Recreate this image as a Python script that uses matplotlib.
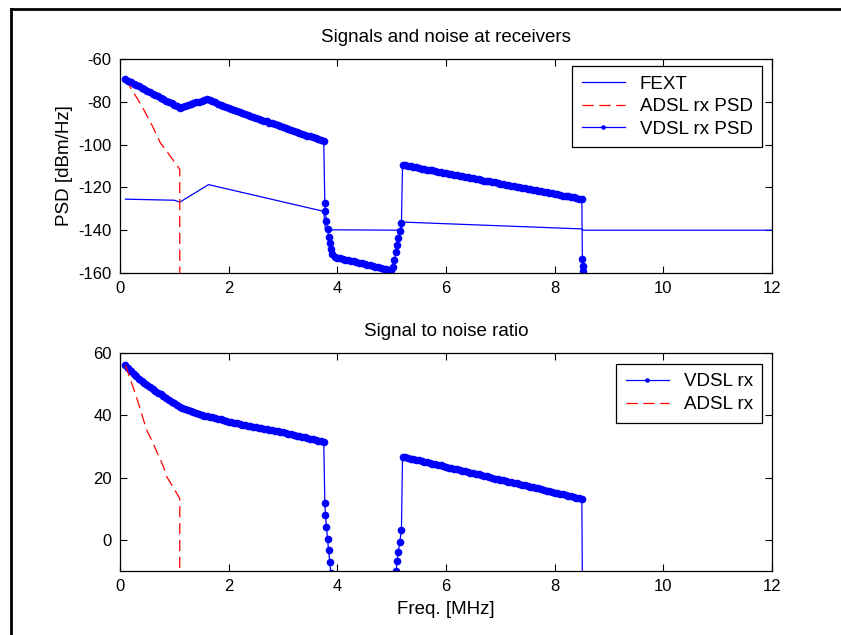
import matplotlib.pyplot as plt
from matplotlib.lines import Line2D

# --- data ---
# frequency grid of the two VDSL bands (MHz)
band1_f = [0.10, 0.15, 0.20, 0.25, 0.30, 0.35, 0.40, 0.45, 0.50, 0.55,
           0.60, 0.65, 0.70, 0.75, 0.80, 0.85, 0.90, 0.95, 1.00, 1.05,
           1.10, 1.15, 1.20, 1.25, 1.30, 1.35, 1.40, 1.45, 1.50, 1.55,
           1.60, 1.65, 1.70, 1.75, 1.80, 1.85, 1.90, 1.95, 2.00, 2.05,
           2.10, 2.15, 2.20, 2.25, 2.30, 2.35, 2.40, 2.45, 2.50, 2.55,
           2.60, 2.65, 2.70, 2.75, 2.80, 2.85, 2.90, 2.95, 3.00, 3.05,
           3.10, 3.15, 3.20, 3.25, 3.30, 3.35, 3.40, 3.45, 3.50, 3.55,
           3.60, 3.65, 3.70, 3.75]
band2_f = [5.20, 5.25, 5.30, 5.35, 5.40, 5.45, 5.50, 5.55, 5.60, 5.65,
           5.70, 5.75, 5.80, 5.85, 5.90, 5.95, 6.00, 6.05, 6.10, 6.15,
           6.20, 6.25, 6.30, 6.35, 6.40, 6.45, 6.50, 6.55, 6.60, 6.65,
           6.70, 6.75, 6.80, 6.85, 6.90, 6.95, 7.00, 7.05, 7.10, 7.15,
           7.20, 7.25, 7.30, 7.35, 7.40, 7.45, 7.50, 7.55, 7.60, 7.65,
           7.70, 7.75, 7.80, 7.85, 7.90, 7.95, 8.00, 8.05, 8.10, 8.15,
           8.20, 8.25, 8.30, 8.35, 8.40, 8.45, 8.50]

# VDSL rx PSD (dBm/Hz)
psd_band1 = [-69.5, -70.2, -70.9, -71.5, -72.2, -72.8, -73.5, -74.2, -74.9, -75.5,
             -76.2, -76.8, -77.5, -78.1, -78.8, -79.4, -80.1, -80.7, -81.4, -82.0,
             -82.7, -82.3, -81.9, -81.5, -81.1, -80.7, -80.3, -79.9, -79.5, -79.0,
             -78.5, -79.1, -79.7, -80.2, -80.8, -81.3, -81.8, -82.3, -82.8, -83.3,
             -83.8, -84.2, -84.7, -85.2, -85.7, -86.1, -86.6, -87.0, -87.5, -87.9,
             -88.4, -88.8, -89.2, -89.7, -90.1, -90.5, -91.0, -91.4, -91.9, -92.3,
             -92.7, -93.2, -93.6, -94.0, -94.5, -94.9, -95.3, -95.8, -96.2, -96.6,
             -97.1, -97.5, -97.9, -98.4]
gap_f = [3.77, 3.78, 3.80, 3.82, 3.84, 3.86, 3.88, 3.90, 3.95,
         4.00, 4.05, 4.10, 4.15, 4.20, 4.25, 4.30, 4.35, 4.40, 4.45,
         4.50, 4.55, 4.60, 4.65, 4.70, 4.75, 4.80, 4.85, 4.90, 4.95, 4.98,
         5.02, 5.05, 5.08, 5.10, 5.12, 5.15, 5.18]
psd_gap = [-127.3, -131.2, -135.6, -139.5, -143.0, -146.0, -148.9, -151.2, -152.5,
           -153.0, -153.2, -153.5, -153.8, -154.0, -154.3, -154.6, -154.9, -155.2, -155.5,
           -155.8, -156.1, -156.4, -156.7, -157.0, -157.3, -157.6, -157.9, -158.2, -158.5, -158.7,
           -157.0, -154.0, -150.0, -146.9, -143.8, -140.6, -136.7]
psd_band2 = [-109.5, -109.7, -110.0, -110.2, -110.4, -110.7, -110.9, -111.2, -111.4, -111.7,
             -111.9, -112.1, -112.4, -112.6, -112.9, -113.1, -113.4, -113.6, -113.8, -114.1,
             -114.3, -114.6, -114.8, -115.0, -115.3, -115.5, -115.8, -116.0, -116.3, -116.5,
             -116.8, -117.0, -117.2, -117.5, -117.7, -118.0, -118.2, -118.4, -118.7, -118.9,
             -119.2, -119.4, -119.7, -119.9, -120.1, -120.4, -120.6, -120.9, -121.1, -121.3,
             -121.6, -121.8, -122.1, -122.3, -122.6, -122.8, -123.0, -123.3, -123.5, -123.8,
             -124.0, -124.2, -124.5, -124.7, -125.0, -125.2, -125.4]
tail_f = [8.51, 8.52, 8.53, 8.54]
psd_tail = [-153.6, -156.7, -158.9, -162.0]

# FEXT (dBm/Hz)
fext_f = [0.1, 1.0, 1.1, 1.63, 3.75, 3.78, 5.18, 5.2, 8.5, 8.52, 12.0]
fext_psd = [-125.5, -126.0, -126.9, -118.7, -131.2, -139.8, -140.0, -136.2, -139.4, -140.0, -140.0]

# ADSL rx PSD (dBm/Hz)
adsl_f = [0.1, 0.4, 0.6, 0.74, 0.9, 1.1, 1.1]
adsl_psd = [-69.5, -81.9, -91.5, -99.1, -104.5, -111.6, -170.0]

# VDSL SNR (dB)
snr_band1 = [56.0, 55.1, 54.3, 53.4, 52.6, 51.8, 51.1, 50.4, 49.8, 49.1,
             48.5, 47.9, 47.3, 46.7, 46.2, 45.6, 45.0, 44.4, 43.9, 43.3,
             42.8, 42.4, 42.0, 41.6, 41.3, 41.0, 40.7, 40.4, 40.2, 39.9,
             39.7, 39.5, 39.3, 39.1, 38.9, 38.7, 38.5, 38.2, 38.0, 37.8,
             37.6, 37.4, 37.2, 37.0, 36.8, 36.6, 36.5, 36.3, 36.1, 36.0,
             35.8, 35.6, 35.5, 35.3, 35.2, 35.0, 34.9, 34.7, 34.5, 34.3,
             34.1, 33.9, 33.7, 33.5, 33.3, 33.1, 32.9, 32.7, 32.5, 32.3,
             32.1, 31.9, 31.7, 31.5]
snr_gap_f = [3.77, 3.78, 3.80, 3.82, 3.84, 3.86, 3.88, 3.90,
             4.0, 4.5, 4.98, 5.02, 5.05, 5.08, 5.10, 5.12, 5.15, 5.18]
snr_gap = [11.9, 8.0, 4.0, 0.2, -3.3, -7.0, -10.5, -12.0,
           -13.0, -15.8, -18.7, -17.0, -14.0, -10.0, -6.9, -3.8, -0.6, 3.3]
snr_band2 = [26.7, 26.5, 26.3, 26.1, 25.9, 25.7, 25.5, 25.3, 25.1, 24.9,
             24.7, 24.5, 24.3, 24.1, 23.9, 23.6, 23.4, 23.2, 23.0, 22.8,
             22.6, 22.4, 22.2, 22.0, 21.8, 21.6, 21.4, 21.2, 21.0, 20.8,
             20.6, 20.4, 20.2, 19.9, 19.7, 19.5, 19.3, 19.1, 18.9, 18.7,
             18.5, 18.3, 18.1, 17.9, 17.7, 17.5, 17.3, 17.1, 16.9, 16.7,
             16.5, 16.3, 16.1, 15.8, 15.6, 15.4, 15.2, 15.0, 14.8, 14.6,
             14.4, 14.2, 14.0, 13.8, 13.6, 13.4, 13.1]
snr_tail_f = [8.51, 8.52]
snr_tail = [-13.6, -16.7]

# ADSL SNR (dB)
snr_adsl_f = [0.1, 0.28, 0.49, 0.58, 0.8, 0.86, 1.1, 1.1]
snr_adsl = [56.0, 47.1, 35.3, 32.1, 23.5, 20.3, 13.3, -20.0]

xticks = [0, 2, 4, 6, 8, 10, 12]

vdsl_f = band1_f + gap_f + band2_f + tail_f
vdsl_psd = psd_band1 + psd_gap + psd_band2 + psd_tail
snr_f = band1_f + snr_gap_f + band2_f + snr_tail_f
snr_vdsl = snr_band1 + snr_gap + snr_band2 + snr_tail

plt.rcParams['font.family'] = ['Liberation Sans', 'DejaVu Sans']
plt.rcParams['font.size'] = 13.5
plt.rcParams['axes.unicode_minus'] = False

fig = plt.figure(figsize=(8.41, 6.35), dpi=100)
ax1 = fig.add_axes([120 / 841, 1 - 273 / 635, 652 / 841, 214 / 635])
ax2 = fig.add_axes([120 / 841, 1 - 571 / 635, 652 / 841, 218 / 635])

dash = (9, 4.5)
mk = dict(marker='o', ms=5.5, mew=0)

ax1.plot(fext_f, fext_psd, color='blue', lw=0.9, label='FEXT')
ax1.plot(adsl_f, adsl_psd, color='red', lw=0.9, dashes=dash, label='ADSL rx PSD')
ax1.plot(vdsl_f, vdsl_psd, color='blue', lw=0.9, label='VDSL rx PSD', **mk)
ax1.set_xlim(0, 12)
ax1.set_ylim(-160, -60)
ax1.set_yticks([-160, -140, -120, -100, -80, -60])
ax1.set_title('Signals and noise at receivers', fontsize=13.5, pad=12)
ax1.set_ylabel('PSD [dBm/Hz]', labelpad=4)

ax2.plot(snr_f, snr_vdsl, color='blue', lw=0.9, label='VDSL rx', **mk)
ax2.plot(snr_adsl_f, snr_adsl, color='red', lw=0.9, dashes=dash, label='ADSL rx')
ax2.set_xlim(0, 12)
ax2.set_ylim(-10, 60)
ax2.set_yticks([0, 20, 40, 60])
ax2.set_title('Signal to noise ratio', fontsize=13.5, pad=12)
ax2.set_xlabel('Freq. [MHz]', labelpad=5)

for ax in (ax1, ax2):
    ax.set_xticks(xticks)
    ax.tick_params(direction='in', length=5, width=0.8, top=True, right=True,
                   pad=6, labelsize=12)
    for s in ax.spines.values():
        s.set_linewidth(0.9)

leg_kw = dict(loc='upper right', fancybox=False, edgecolor='black', framealpha=1,
              borderaxespad=0, handlelength=2.3, handletextpad=0.8,
              labelspacing=0.3, borderpad=0.5, markerscale=0.6, numpoints=1,
              fontsize=13.5)
l1 = ax1.legend(bbox_to_anchor=(0.985, 0.967), **leg_kw)
l2 = ax2.legend(bbox_to_anchor=(0.985, 0.95), **leg_kw)
for l in (l1, l2):
    l.get_frame().set_linewidth(0.9)

# outer frame
fig.add_artist(Line2D([11 / 841, 1], [1 - 9 / 635, 1 - 9 / 635], color='black', lw=2,
                      transform=fig.transFigure))
fig.add_artist(Line2D([11 / 841, 11 / 841], [0, 1 - 9 / 635], color='black', lw=2,
                      transform=fig.transFigure))

fig.savefig('out.png', dpi=100)
